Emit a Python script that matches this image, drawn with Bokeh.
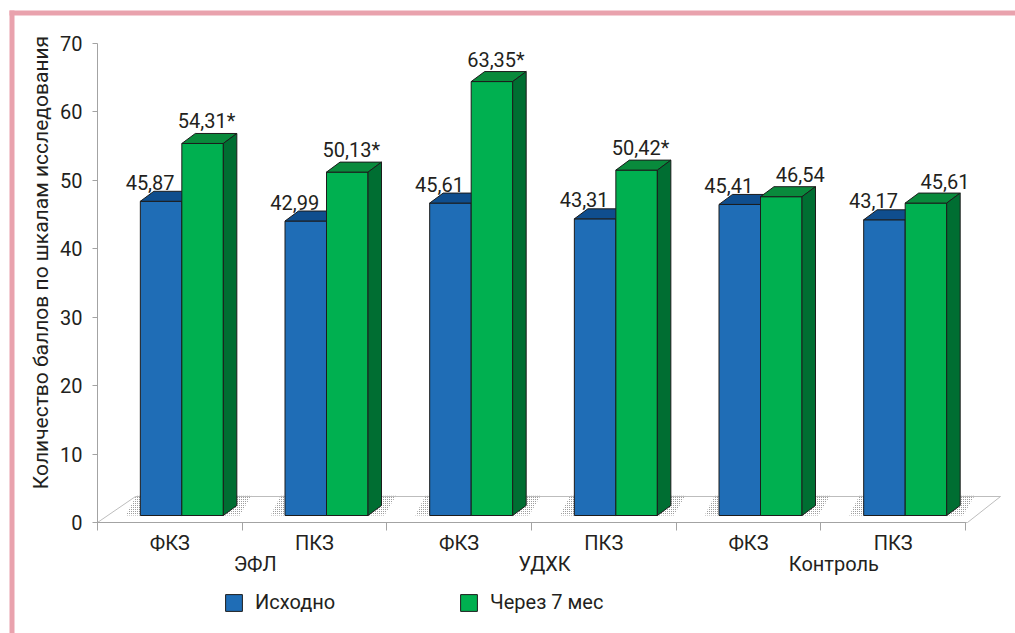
from bokeh.plotting import figure
from bokeh.models import (Range1d, LinearAxis, FixedTicker, Legend, LegendItem,
                          BoxAnnotation)
from bokeh.core.properties import value
from bokeh.embed import file_html
from bokeh.resources import INLINE

# ---- data ----
categories = ["ФКЗ", "ПКЗ", "ФКЗ", "ПКЗ", "ФКЗ", "ПКЗ"]
groups = ["ЭФЛ", "УДХК", "Контроль"]
series_names = ["Исходно", "Через 7 мес"]
baseline = [45.87, 42.99, 45.61, 43.31, 45.41, 43.17]
after_7m = [54.31, 50.13, 63.35, 50.42, 46.54, 45.61]
significant = [True, True, True, True, False, False]
y_ticks = [0, 10, 20, 30, 40, 50, 60, 70]
y_title = "Количество баллов по шкалам исследования"

# ---- layout / geometry (screen pixels) ----
W, H = 1015, 633
AX_X, AX_Y = 97, 522                 # where the value axis and the category axis run
PX_X = 144.67                        # pixels per category
PX_Y = 6.85                          # pixels per score unit
BASE = 515                           # screen y of the bars' front base
TITLE_MID = 262                      # screen y of the centre of the value-axis title
FONT = "Roboto"
FS = "20px"
TXT = "#231f20"
AXIS_GREY = "#a3a3a3"

BLUE, BLUE_TOP = "#1f6db6", "#0f4e8e"
GREEN, GREEN_TOP, GREEN_SIDE = "#00b050", "#098a3c", "#006e32"
EDGE = "#1c1c1c"
PINK = "#e9a2ad"

bar_w = 41.5 / PX_X                  # bar width (data units)
shift = 12 / PX_X                    # pair offset caused by the depth view
dx = 13.5 / PX_X                     # depth of a bar, x
dy = 10 / PX_Y                       # depth of a bar, y

x0 = -0.5 - AX_X / PX_X
x_range = Range1d(x0, x0 + W / PX_X)
y_range = Range1d(-(H - BASE) / PX_Y, BASE / PX_Y)
axis_lo = (BASE - AX_Y) / PX_Y       # main-range value where the category axis runs

p = figure(width=W, height=H, x_range=x_range, y_range=y_range, title=None,
           output_backend="svg", toolbar_location=None,
           x_axis_location=None, y_axis_location=None, min_border=0,
           outline_line_color=None, background_fill_color="white",
           border_fill_color="white")
p.grid.visible = False
p.extra_y_ranges = {"axis": Range1d(-(H - AX_Y) / PX_Y, AX_Y / PX_Y)}
grp_px0 = AX_X + PX_X + 13           # screen x of the first group label
p.extra_x_ranges = {"grp": Range1d(-grp_px0 / (2 * PX_X), (W - grp_px0) / (2 * PX_X))}

# ---- floor of the 3D box ----
n = len(categories)
fl_dx0, fl_dx1 = 38 / PX_X, 33 / PX_X
fl_back = axis_lo + 26 / PX_Y
fl_right = n - 0.5 + 2 / PX_X
p.patch([-0.5, fl_right, fl_right + fl_dx1, -0.5 + fl_dx0],
        [axis_lo, axis_lo, fl_back, fl_back],
        fill_color="white", line_color="#bdbdbd", line_width=1)

# ---- bar faces ----
faces = {k: ([], []) for k in ["b_front", "b_top", "b_side", "g_front", "g_top", "g_side", "shadow"]}
for i in range(n):
    pair = i + shift
    for key, left, v in (("b", pair - bar_w, baseline[i]), ("g", pair, after_7m[i])):
        right = left + bar_w
        faces[key + "_front"][0].append([left, right, right, left])
        faces[key + "_front"][1].append([0, 0, v, v])
        faces[key + "_top"][0].append([left, right, right + dx, left + dx])
        faces[key + "_top"][1].append([v, v, v + dy, v + dy])
        faces[key + "_side"][0].append([right, right + dx, right + dx, right])
        faces[key + "_side"][1].append([0, dy, v + dy, v])
    l0, r0 = pair - bar_w, pair + bar_w + dx
    faces["shadow"][0].append([l0 - 0.10, r0 + 0.02, r0 + 0.10, l0 - 0.03])
    faces["shadow"][1].append([0, 0, 2.9, 2.9])

p.patches(*faces["shadow"], fill_color=None, line_color=None,
          hatch_pattern="dot", hatch_color="#6e6e6e", hatch_scale=2, hatch_weight=1, hatch_alpha=0.9)

p.patches(*faces["b_side"], fill_color=BLUE_TOP, line_color=EDGE, line_width=1)
r_bfront = p.patches(*faces["b_front"], fill_color=BLUE, line_color=EDGE, line_width=1)
p.patches(*faces["b_top"], fill_color=BLUE_TOP, line_color=EDGE, line_width=1)
r_gfront = p.patches(*faces["g_front"], fill_color=GREEN, line_color=EDGE, line_width=1)
p.patches(*faces["g_top"], fill_color=GREEN_TOP, line_color=EDGE, line_width=1)
p.patches(*faces["g_side"], fill_color=GREEN_SIDE, line_color=EDGE, line_width=1)

# ---- value labels ----
def fmt(v, star):
    return ("%.2f" % v).replace(".", ",") + ("*" if star else "")

lx, ly, lt = [], [], []
for i in range(n):
    pair = i + shift
    lx.append(pair - bar_w / 2 - 11 / PX_X)
    ly.append(baseline[i] + 19 / PX_Y)
    lt.append(fmt(baseline[i], False))
    nudge = 19 if after_7m[i] - baseline[i] < 3 else 4
    lx.append(pair + bar_w / 2 + nudge / PX_X)
    ly.append(after_7m[i] + 22 / PX_Y)
    lt.append(fmt(after_7m[i], significant[i]))
p.text(x=lx, y=ly, text=lt, text_align="center", text_baseline="alphabetic",
       text_font=value(FONT), text_font_size=FS, text_color=TXT)

# ---- axes ----
yax = LinearAxis(y_range_name="axis", ticker=FixedTicker(ticks=y_ticks), bounds=(0, 70),
                 fixed_location=-0.5)
yax.axis_line_color = AXIS_GREY
yax.major_tick_line_color = AXIS_GREY
yax.major_tick_out, yax.major_tick_in = 5, 0
yax.minor_tick_line_color = None
yax.major_label_standoff = 10
yax.major_label_text_font = FONT
yax.major_label_text_font_size = FS
yax.major_label_text_color = TXT
p.add_layout(yax, "left")

# the axis title is carried by a bare axis so that it can be centred independently
mid = (AX_Y - TITLE_MID) / PX_Y
tax = LinearAxis(y_range_name="axis", ticker=FixedTicker(ticks=[]), bounds=(0, 2 * mid),
                 fixed_location=-0.5, axis_label=y_title)
tax.axis_line_color = None
tax.major_tick_line_color = None
tax.minor_tick_line_color = None
tax.major_tick_out, tax.major_tick_in = 0, 0
tax.major_label_standoff = 0
tax.axis_label_standoff = 45
tax.axis_label_text_font = FONT
tax.axis_label_text_font_size = "21px"
tax.axis_label_text_font_style = "normal"
tax.axis_label_text_color = TXT
p.add_layout(tax, "left")

xax = LinearAxis(ticker=FixedTicker(ticks=list(range(n)), minor_ticks=[i - 0.5 for i in range(n + 1)]),
                 bounds=(-0.5, n - 0.5), fixed_location=axis_lo,
                 major_label_overrides={i: c for i, c in enumerate(categories)})
xax.axis_line_color = AXIS_GREY
xax.major_tick_line_color = None
xax.major_tick_out, xax.major_tick_in = 0, 0
xax.minor_tick_line_color = AXIS_GREY
xax.minor_tick_out, xax.minor_tick_in = 8, 0
xax.major_label_standoff = 0
xax.major_label_text_font = FONT
xax.major_label_text_font_size = FS
xax.major_label_text_color = TXT
p.add_layout(xax, "below")

gax = LinearAxis(x_range_name="grp", ticker=FixedTicker(ticks=list(range(len(groups)))),
                 fixed_location=axis_lo,
                 major_label_overrides={i: g for i, g in enumerate(groups)})
gax.axis_line_color = None
gax.major_tick_line_color = None
gax.minor_tick_line_color = None
gax.major_tick_out, gax.major_tick_in = 0, 0
gax.major_label_standoff = 29
gax.major_label_text_font = FONT
gax.major_label_text_font_size = FS
gax.major_label_text_color = TXT
p.add_layout(gax, "below")

legend = Legend(items=[LegendItem(label=series_names[0], renderers=[r_bfront]),
                       LegendItem(label=series_names[1], renderers=[r_gfront])],
                orientation="horizontal", location=(223, H - 614))
legend.glyph_width = 21
legend.glyph_height = 21
legend.label_standoff = 11
legend.label_width = 193
legend.spacing = 10
legend.padding = 0
legend.margin = 0
legend.border_line_color = None
legend.background_fill_color = None
legend.label_text_font = FONT
legend.label_text_font_size = FS
legend.label_text_color = TXT
p.add_layout(legend)

# ---- page frame ----
p.add_layout(BoxAnnotation(left=9, right=14, top=10, bottom=H, left_units="canvas",
                           right_units="canvas", top_units="canvas", bottom_units="canvas",
                           fill_color=PINK, fill_alpha=1, line_color=None))
p.add_layout(BoxAnnotation(left=9, right=W, top=10, bottom=15, left_units="canvas",
                           right_units="canvas", top_units="canvas", bottom_units="canvas",
                           fill_color=PINK, fill_alpha=1, line_color=None))

open("out.html", "w").write(file_html(p, INLINE))
